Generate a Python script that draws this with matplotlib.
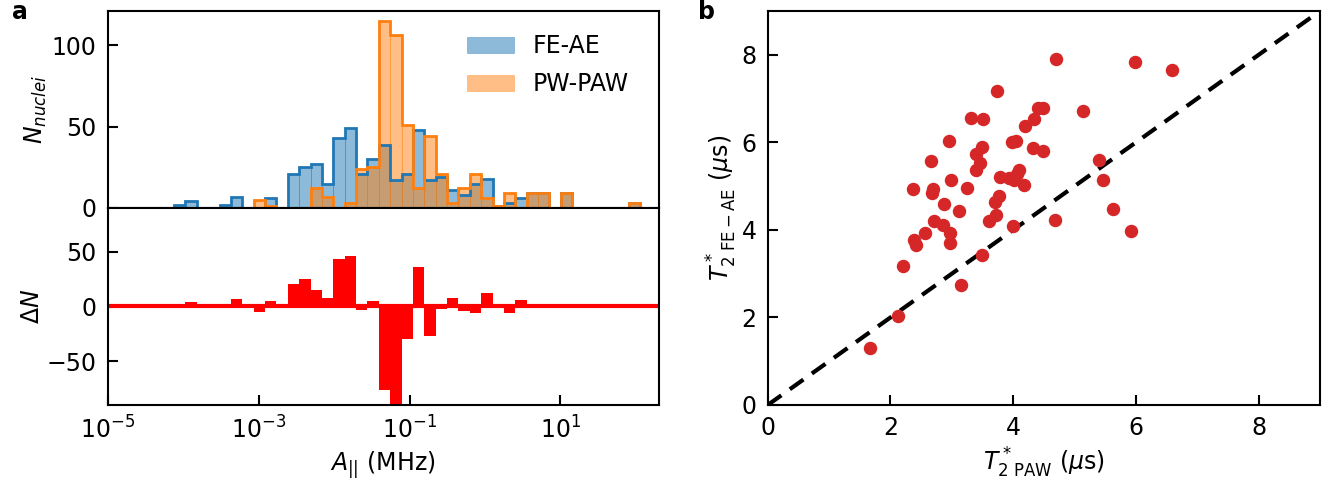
import numpy as np
import matplotlib
matplotlib.use("Agg")
import matplotlib.pyplot as plt

plt.rcParams["font.size"] = 17

# log10 of first and last histogram bin edge, 41 bins
log_lo = -4.12
log_hi = 2.06
n_bins = 41

# counts per bin (from left to right)
fe_ae = [2, 4, 0, 0, 2, 7, 0, 0, 6, 0,
         21, 25, 27, 15, 43, 49, 21, 30, 39, 17,
         21, 48, 17, 19, 11, 8, 15, 18, 1, 3,
         6, 9, 9, 0, 9, 0, 0, 0, 0, 0, 3]
pw_paw = [0, 0, 0, 0, 0, 0, 0, 5, 1, 0,
          0, 0, 12, 7, 0, 3, 24, 25, 115, 106,
          51, 12, 44, 21, 3, 12, 21, 6, 1, 9,
          0, 9, 9, 0, 9, 0, 0, 0, 0, 0, 3]

# T2* values (us)
t2_paw = [1.66, 2.13, 2.21, 2.38, 2.41, 2.56, 2.36, 2.66, 2.69, 2.68,
          2.71, 2.85, 2.87, 2.95, 2.97, 2.97, 2.99, 3.11, 3.15, 3.24,
          3.31, 3.39, 3.40, 3.46, 3.49, 3.50, 3.49, 3.60, 3.72, 3.70,
          3.77, 3.73, 3.79, 3.93, 3.98, 4.04, 4.00, 4.02, 4.06, 4.10,
          4.17, 4.20, 4.32, 4.34, 4.41, 4.48, 4.48, 4.68, 4.69, 5.14,
          5.40, 5.46, 5.62, 5.92, 5.99, 6.59]
t2_feae = [1.31, 2.04, 3.18, 3.76, 3.66, 3.92, 4.94, 5.58, 4.94, 4.84,
           4.21, 4.11, 4.59, 6.03, 3.94, 3.71, 5.13, 4.42, 2.73, 4.95,
           6.55, 5.74, 5.37, 5.52, 5.90, 6.54, 3.43, 4.21, 4.34, 4.63,
           4.78, 7.18, 5.20, 5.18, 6.00, 6.02, 4.09, 5.14, 5.28, 5.37,
           5.03, 6.38, 5.87, 6.53, 6.78, 6.78, 5.81, 4.23, 7.90, 6.72,
           5.60, 5.14, 4.48, 3.98, 7.83, 7.66]

bins = np.logspace(log_lo, log_hi, n_bins + 1)
centers = np.sqrt(bins[:-1] * bins[1:])
fe_ae = np.array(fe_ae)
pw_paw = np.array(pw_paw)
delta = fe_ae - pw_paw

fig = plt.figure(figsize=(13.35, 4.87), dpi=100)
ax1 = fig.add_axes([0.0807, 0.5729, 0.4126, 0.4045])
ax2 = fig.add_axes([0.0807, 0.1684, 0.4126, 0.4045], sharex=ax1)
ax3 = fig.add_axes([0.5751, 0.1684, 0.4137, 0.8090])

for ax in [ax1, ax2, ax3]:
    for s in ax.spines.values():
        s.set_linewidth(1.5)
    ax.tick_params(direction="in", length=7, width=1.5, pad=8,
                   top=False, right=False)

# histograms
ax1.hist(centers, bins=bins, weights=fe_ae, color="C0", alpha=0.5,
         edgecolor="C0", linewidth=0.5, label="FE-AE")
ax1.hist(centers, bins=bins, weights=fe_ae, histtype="step", color="C0", linewidth=2)
ax1.hist(centers, bins=bins, weights=pw_paw, color="C1", alpha=0.5,
         edgecolor="C1", linewidth=0.5, label="PW-PAW")
ax1.hist(centers, bins=bins, weights=pw_paw, histtype="step", color="C1", linewidth=2)
ax1.set_xscale("log")
ax1.set_xlim(1e-5, 200)
ax1.set_ylim(0, 121)
ax1.set_yticks([0, 50, 100])
ax1.tick_params(axis="x", which="both", bottom=False, labelbottom=False)
ax1.set_ylabel(r"$N_{nuclei}$", labelpad=2)
ax1.legend(loc="upper right", frameon=False, labelspacing=0.6,
           bbox_to_anchor=(0.985, 0.99))

# difference
ax2.bar(bins[:-1], delta, width=np.diff(bins), align="edge", color="red")
ax2.axhline(0, color="red", linewidth=3)
ax2.set_ylim(-90, 90)
ax2.set_yticks([-50, 0, 50])
ax2.set_xticks([1e-5, 1e-3, 1e-1, 1e1])
ax2.xaxis.set_minor_locator(matplotlib.ticker.NullLocator())
ax2.set_ylabel(r"$\Delta N$", labelpad=2)
ax2.set_xlabel(r"$A_{||}$ (MHz)")

# scatter
ax3.plot([0, 9], [0, 9], "k--", linewidth=3, dashes=(4, 2.5))
ax3.scatter(t2_paw, t2_feae, s=75, color="C3", zorder=3)
ax3.set_xlim(0, 9)
ax3.set_ylim(0, 9)
ax3.set_xticks([0, 2, 4, 6, 8])
ax3.set_yticks([0, 2, 4, 6, 8])
ax3.set_xlabel(r"$T^*_{2\ \mathrm{PAW}}$ ($\mu$s)")
ax3.set_ylabel(r"$T^*_{2\ \mathrm{FE-AE}}$ ($\mu$s)", labelpad=2)

fig.text(0.009, 0.975, "a", fontweight="bold", fontsize=17, va="center")
fig.text(0.523, 0.975, "b", fontweight="bold", fontsize=17, va="center")

plt.savefig("out.png", dpi=100)
